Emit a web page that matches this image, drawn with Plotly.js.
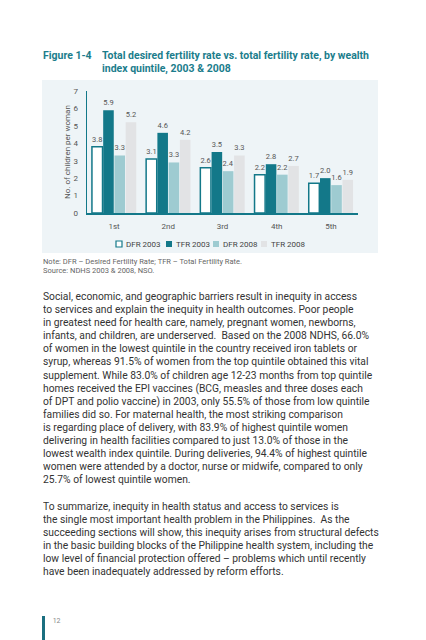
<!DOCTYPE html>
<html><head><meta charset="utf-8">
<script src="https://cdn.plot.ly/plotly-3.0.1.min.js"></script>
<style>
body{margin:0;width:426px;height:640px;background:#fff;position:relative;overflow:hidden;font-family:Roboto,"DejaVu Sans",sans-serif}
.abs{position:absolute;white-space:nowrap;transform-origin:0 0}
.line{display:block;white-space:nowrap}
</style></head><body>
<div id="fig" class="abs" style="left:42.7px;top:49px;font-size:11px;line-height:13.4px;font-weight:bold;color:#1b7d8c">Figure 1-4</div>
<div id="ttl" class="abs" style="left:102px;top:49px;font-size:11px;line-height:13.4px;font-weight:bold;color:#1b7d8c"></div>
<div id="chart" class="abs" style="left:42px;top:80px;width:336px;height:173px"></div>
<div id="note" class="abs" style="left:42.7px;top:257.7px;font-size:6.8px;line-height:9px;color:#666"></div>
<div id="body" class="abs" style="left:42.7px;top:290px;font-size:11px;line-height:13.1px;color:#333"></div>
<div class="abs" style="left:42px;top:616px;width:2.7px;height:24px;background:#1b6f80"></div>
<div class="abs" style="left:52.7px;top:617px;font-size:7px;line-height:9px;color:#888">12</div>
<script>
// ---- data ----
var categories = ['1st', '2nd', '3rd', '4th', '5th'];
var seriesNames = ['DFR 2003', 'TFR 2003', 'DFR 2008', 'TFR 2008'];
var dfr2003 = [3.8, 3.1, 2.6, 2.2, 1.7];
var tfr2003 = [5.9, 4.6, 3.5, 2.8, 2.0];
var dfr2008 = [3.3, 2.9, 2.4, 2.2, 1.6];
var dfr2008Labels = ['3.3', '3.3', '2.4', '2.2', '1.6'];
var tfr2008 = [5.2, 4.2, 3.3, 2.7, 1.9];
var yTicks = [0, 1, 2, 3, 4, 5, 6, 7];

var titleLines = ['Total desired fertility rate vs. total fertility rate, by wealth', 'index quintile, 2003 & 2008'];
var noteLines = ['Note: DFR \u2013 Desired Fertility Rate; TFR \u2013 Total Fertility Rate.', 'Source: NDHS 2003 & 2008, NSO.'];
var bodyLines = [
'Social, economic, and geographic barriers result in inequity in access',
'to services and explain the inequity in health outcomes. Poor people',
'in greatest need for health care, namely, pregnant women, newborns,',
'infants, and children, are underserved.  Based on the 2008 NDHS, 66.0%',
'of women in the lowest quintile in the country received iron tablets or',
'syrup, whereas 91.5% of women from the top quintile obtained this vital',
'supplement. While 83.0% of children age 12-23 months from top quintile',
'homes received the EPI vaccines (BCG, measles and three doses each',
'of DPT and polio vaccine) in 2003, only 55.5% of those from low quintile',
'families did so. For maternal health, the most striking comparison',
'is regarding place of delivery, with 83.9% of highest quintile women',
'delivering in health facilities compared to just 13.0% of those in the',
'lowest wealth index quintile. During deliveries, 94.4% of highest quintile',
'women were attended by a doctor, nurse or midwife, compared to only',
'25.7% of lowest quintile women.',
'',
'To summarize, inequity in health status and access to services is',
'the single most important health problem in the Philippines.  As the',
'succeeding sections will show, this inequity arises from structural defects',
'in the basic building blocks of the Philippine health system, including the',
'low level of financial protection offered \u2013 problems which until recently',
'have been inadequately addressed by reform efforts.'
];

// ---- text blocks ----
function fill(id, lines, targetWidth) {
  var el = document.getElementById(id);
  lines.forEach(function (t) {
    var s = document.createElement('span');
    s.className = 'line';
    s.style.whiteSpace = 'pre';
    s.textContent = t === '' ? '\u00a0' : t;
    el.appendChild(s);
  });
  if (targetWidth) {
    var probe = document.createElement('span');
    probe.style.whiteSpace = 'pre';
    probe.textContent = lines[0];
    el.appendChild(probe);
    var w = probe.getBoundingClientRect().width;
    el.removeChild(probe);
    if (w > 0) el.style.transform = 'scaleX(' + (targetWidth / w) + ')';
  }
}
fill('ttl', titleLines, 267);
fill('note', noteLines, 199);
fill('body', bodyLines, 314);
(function(){
  var el = document.getElementById('fig');
  el.style.transform = document.getElementById('ttl').style.transform;
})();

// ---- chart ----
var teal = '#137889';
var colors = ['#ffffff', teal, '#9ecbd1', '#e2e3e5'];
var values = [dfr2003, tfr2003, dfr2008, tfr2008];
var labels = [dfr2003.map(String), tfr2003.map(function(v){return v.toFixed(1);}), dfr2008Labels, tfr2008.map(String)];

var traces = values.map(function (v, i) {
  return {
    type: 'bar', name: seriesNames[i], x: categories, y: v,
    text: labels[i], textposition: 'outside', cliponaxis: false,
    constraintext: 'none',
    textfont: {size: 7.5, color: '#555', family: 'Roboto'},
    marker: {color: colors[i], line: {color: i === 0 ? teal : colors[i], width: i === 0 ? 1.5 : 0}},
    hoverinfo: 'skip', showlegend: false
  };
});

// custom legend (swatches + labels), positions in page pixels converted to paper coords
var plotL = 42 + 45, plotW = 271, plotB = 213, plotH = 122;
var legendPx = [116, 166, 213, 261];
var legendPy = 244;
var shapes = [], annotations = [];
seriesNames.forEach(function (n, i) {
  var x0 = (legendPx[i] - plotL) / plotW, x1 = (legendPx[i] + 6 - plotL) / plotW;
  var y0 = (plotB - (legendPy + 3)) / plotH, y1 = (plotB - (legendPy - 3)) / plotH;
  shapes.push({type: 'rect', xref: 'paper', yref: 'paper', x0: x0, x1: x1, y0: y0, y1: y1,
    fillcolor: colors[i], line: {color: i === 0 ? teal : colors[i], width: i === 0 ? 1.2 : 0}});
  annotations.push({xref: 'paper', yref: 'paper', x: (legendPx[i] + 8 - plotL) / plotW, y: (plotB - legendPy) / plotH,
    xanchor: 'left', yanchor: 'middle', showarrow: false, text: n,
    font: {size: 8, color: '#444', family: 'Roboto'}});
});

var layout = {
  width: 336, height: 173,
  margin: {l: 45, r: 20, t: 11, b: 40},
  paper_bgcolor: '#eef4f7', plot_bgcolor: 'rgba(0,0,0,0)',
  barmode: 'group', bargap: 0.17, bargroupgap: 0.06,
  showlegend: false,
  font: {family: 'Roboto', color: '#555'},
  xaxis: {type: 'category', range: [-0.5, 4.5], showgrid: false, zeroline: false,
    showline: true, linecolor: teal, linewidth: 2, ticks: '', tickfont: {size: 8, color: '#555'},
    ticklabelstandoff: 4, fixedrange: true},
  yaxis: {range: [0, 7], tickvals: yTicks, ticktext: yTicks.map(String), showgrid: false, zeroline: false,
    showline: true, linecolor: teal, linewidth: 1.5, ticks: '', tickfont: {size: 8, color: '#555'},
    ticklabelstandoff: 6, fixedrange: true,
    title: {text: 'No. of children per woman', font: {size: 8, color: '#555'}, standoff: 1}},
  shapes: shapes, annotations: annotations
};
Plotly.newPlot('chart', traces, layout, {staticPlot: true, displayModeBar: false});
</script>
</body></html>
